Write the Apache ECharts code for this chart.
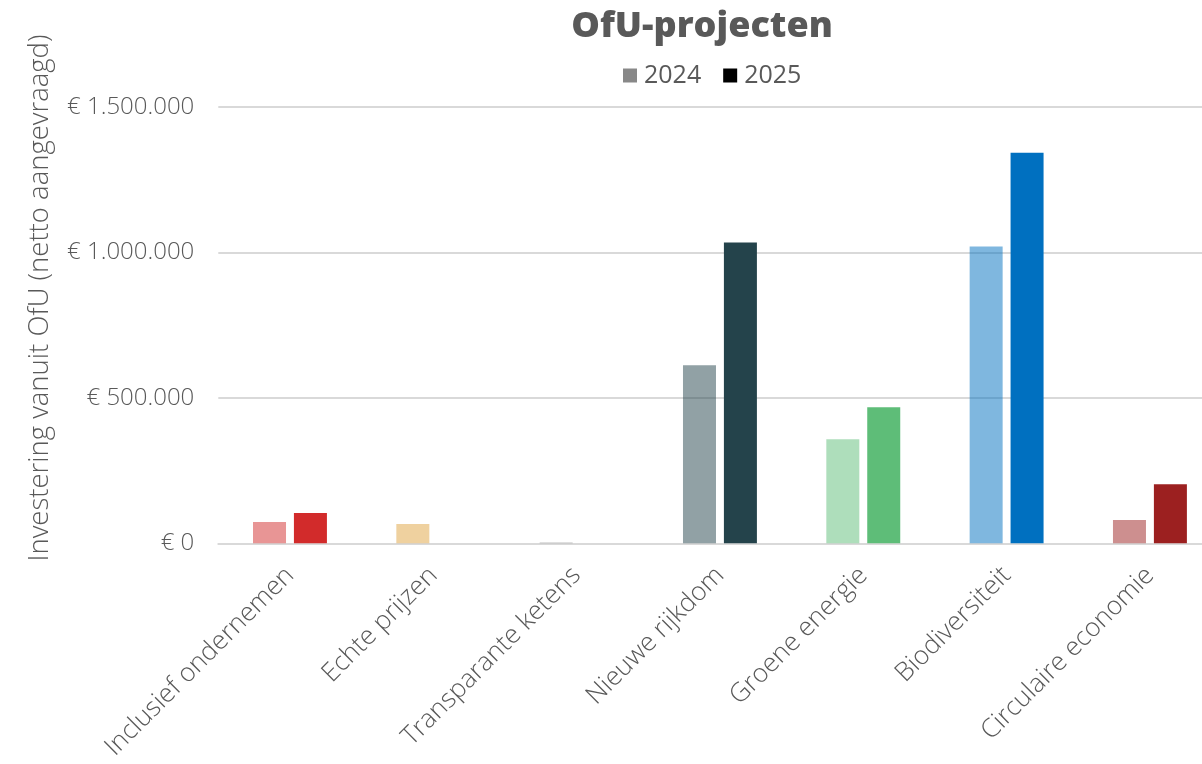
<!DOCTYPE html>
<html><head><meta charset="utf-8">
<script src="https://cdn.jsdelivr.net/npm/echarts@6/dist/echarts.min.js"></script>
<style>html,body{margin:0;padding:0;background:#fff}#c{width:1202px;height:764px}</style>
</head><body><div id="c"></div>
<script>
const categories = ['Inclusief ondernemen','Echte prijzen','Transparante ketens','Nieuwe rijkdom','Groene energie','Biodiversiteit','Circulaire economie'];
const values2024 = [73000, 66000, 3000, 612000, 358000, 1020000, 80000];
const values2025 = [104000, 0, 0, 1034000, 468000, 1343000, 203000];
const catColors = ['#D22B2B','#DFA33F','#7F7F7F','#24434B','#5EBD78','#0070C0','#9C2020'];
const yTicks = [0, 500000, 1000000, 1500000];

const txt = '#595959';
const font = 'Open Sans';
function fmt(v){ return '€ ' + String(Math.round(v)).replace(/\B(?=(\d{3})+(?!\d))/g,'.'); }

const chart = echarts.init(document.getElementById('c'));
chart.setOption({
  animation:false,
  title:{text:'OfU-projecten', left:697, top:4, textAlign:'center',
    textStyle:{fontFamily:font, fontWeight:800, fontSize:36, color:txt}},
  legend:{top:58, left:618, itemWidth:14, itemHeight:14, itemGap:22,
    icon:'rect', textStyle:{fontFamily:font, fontSize:25, color:txt, padding:[0,0,0,2]},
    data:['2024','2025']},
  graphic:[{type:'text', x:40, y:298, rotation:Math.PI/2,
    style:{text:'Investering vanuit OfU (netto aangevraagd)', fill:txt, font:'300 27.5px "Open Sans"',
      textAlign:'center', textVerticalAlign:'middle'}}],
  grid:{left:218.3, width:1003.3, top:107, bottom:220.7, containLabel:false, outerBoundsMode:'none'},
  xAxis:{type:'category', data:categories,
    axisLine:{lineStyle:{color:'#d9d9d9', width:2}}, axisTick:{show:false},
    axisLabel:{rotate:45, margin:28, interval:0, fontFamily:font, fontWeight:300, fontSize:26, color:txt}},
  yAxis:{type:'value', min:0, max:1500000, interval:500000,
    axisLine:{show:false}, axisTick:{show:false},
    splitLine:{lineStyle:{color:'#d9d9d9', width:2}},
    axisLabel:{margin:24, fontFamily:font, fontWeight:300, fontSize:24, color:txt, formatter:fmt}},
  series:[
    {name:'2024', type:'bar', barWidth:33, barGap:'24%', itemStyle:{color:'#888888'},
     data: values2024.map((v,i)=>({value:v, itemStyle:{color:catColors[i], opacity:0.5}}))},
    {name:'2025', type:'bar', barWidth:33, barGap:'24%', itemStyle:{color:'#000000'},
     data: values2025.map((v,i)=>({value:v, itemStyle:{color:catColors[i]}}))}
  ]
});
</script></body></html>
